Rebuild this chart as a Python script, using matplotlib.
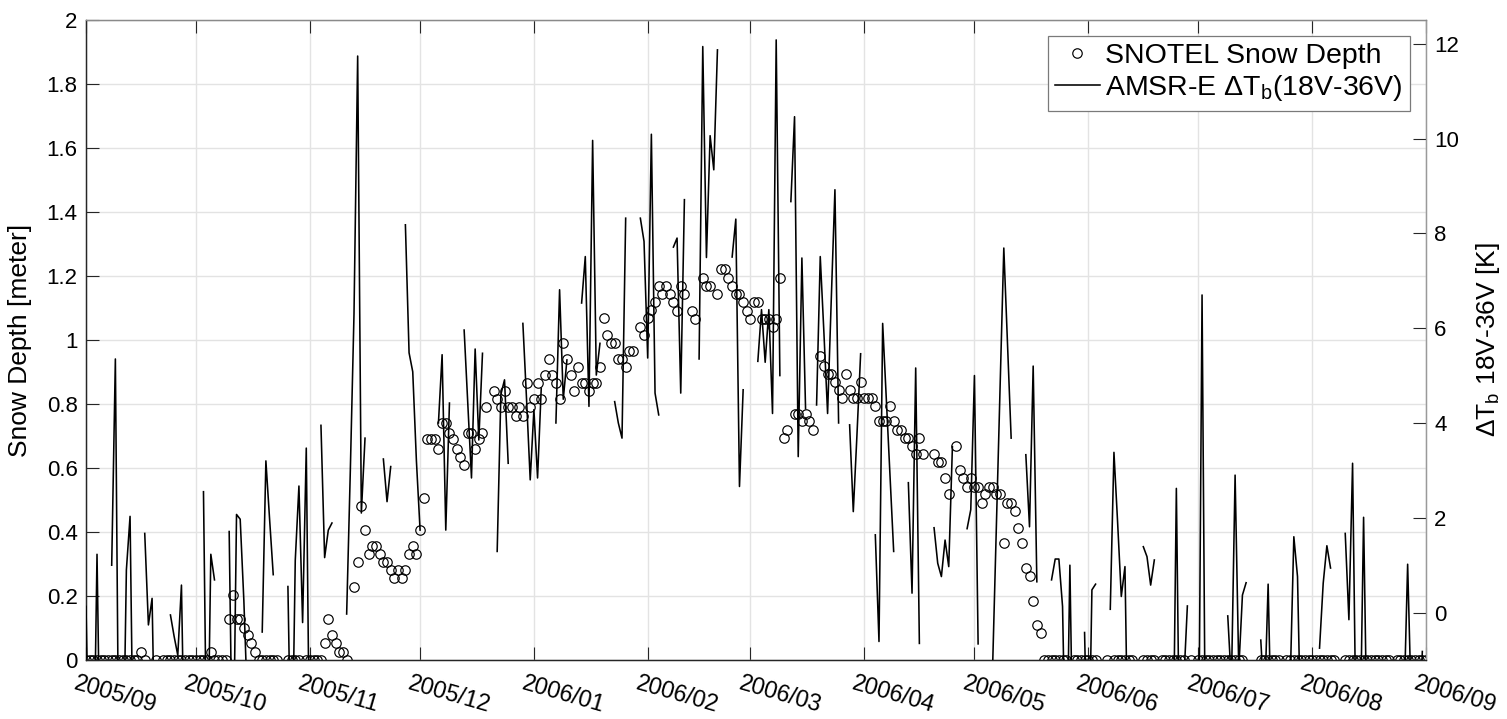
import numpy as np
import pandas as pd
import matplotlib
matplotlib.use("Agg")
import matplotlib.pyplot as plt
import matplotlib.transforms as mtransforms
from matplotlib.ticker import FuncFormatter, MultipleLocator
from matplotlib.lines import Line2D

plt.rcParams['font.family'] = ['Liberation Sans', 'DejaVu Sans']
plt.rcParams['mathtext.fontset'] = 'custom'
plt.rcParams['mathtext.rm'] = 'Liberation Sans'

N = np.nan

# Daily series, 2005-09-01 .. 2006-09-01
start_date = "2005-09-01"
end_date = "2006-09-01"

# SNOTEL snow depth [m]
snow_depth = [
    0, 0, 0, 0, 0, 0, 0, 0, 0, 0,
    0, 0, 0, 0, 0, .026, 0, N, N, 0,
    N, 0, 0, 0, 0, 0, 0, 0, 0, 0,
    0, 0, 0, 0, .026, 0, 0, 0, 0, .127,
    .203, .127, .127, .10, .078, .052, .026, 0, 0, 0,
    0, 0, 0, N, N, 0, 0, 0, 0, N,
    0, 0, 0, 0, 0, .052, .127, .078, .052, .026,
    .026, 0, N, .229, .305, .482, .406, .331, .356, .356,
    .331, .305, .305, .281, .255, .281, .255, .281, .331, .356,
    .331, .406, .507, .69, .69, .69, .66, .74, .74, .71,
    .69, .66, .635, .61, .71, .71, .66, .69, .71, .79,
    N, .84, .815, .79, .84, .79, .79, .763, .79, .763,
    .865, .79, .815, .865, .815, .89, .94, .89, .865, .815,
    .99, .94, .89, .84, .917, .865, .865, .84, .865, .865,
    .917, 1.068, 1.016, .99, .99, .94, .94, .917, .966, .966,
    N, 1.042, 1.016, 1.068, 1.094, 1.12, 1.17, 1.144, 1.169, 1.144,
    1.118, 1.09, 1.169, 1.144, N, 1.09, 1.066, N, 1.195, 1.169,
    1.169, N, 1.144, 1.221, 1.221, 1.195, 1.169, 1.144, 1.144, 1.118,
    1.09, 1.066, 1.118, 1.118, 1.066, 1.066, 1.066, 1.04, 1.066, 1.195,
    .695, .72, N, .77, .77, .747, .77, .747, .72, N,
    .95, .92, .895, .895, .87, .845, .82, .895, .845, .82,
    .82, .87, .82, .82, .82, .795, .747, .747, .747, .795,
    .747, .72, .72, .695, .695, .67, .643, .695, .643, N,
    N, .643, .618, .618, .568, .518, N, .67, .594, .568,
    .54, .568, .54, .54, .49, .518, .54, .54, .518, .518,
    .365, .49, .49, .466, .413, .365, .289, .263, .185, .109,
    .083, 0, 0, 0, 0, 0, 0, 0, N, 0,
    0, 0, 0, 0, 0, 0, N, N, 0, N,
    0, 0, 0, 0, 0, 0, N, N, 0, 0,
    0, 0, N, 0, 0, 0, 0, 0, 0, 0,
    N, 0, N, 0, 0, 0, 0, 0, 0, 0,
    0, 0, 0, 0, 0, 0, N, N, N, N,
    0, 0, 0, 0, 0, 0, N, 0, 0, 0,
    0, 0, 0, 0, 0, 0, 0, 0, 0, 0,
    0, N, N, 0, 0, 0, 0, 0, 0, 0,
    0, 0, 0, 0, 0, 0, N, 0, 0, 0,
    0, 0, 0, 0, 0, 0,
]

# AMSR-E brightness temperature difference 18V-36V [K]
delta_tb = [
    .13, -4, -4, 1.23, -4, N, N, 1.0, 5.35, -4,
    -4, .9, 2.03, -4, N, N, 1.67, -.26, .3, -4,
    N, N, N, -.05, -.5, -.9, .58, -4, N, N,
    N, N, 2.55, -4, 1.23, .69, N, N, N, 1.71,
    -4, 2.07, 1.97, .25, -2, N, N, N, -.41, 3.2,
    1.98, .8, N, N, N, .55, -4, 1.1, 2.67, -.21,
    3.47, -4, N, N, 3.95, 1.16, 1.74, 1.89, N, N,
    N, -.03, 3.0, 6.3, 11.74, 2.1, 3.68, N, N, N,
    N, 3.24, 2.34, 3.08, N, N, N, 8.18, 5.48, 5.08,
    3.2, 1.74, N, N, N, N, 4.0, 5.44, 1.74, 4.42,
    N, N, N, 5.96, 4.4, 2.84, 5.56, 3.64, 5.47, N,
    N, N, 1.29, 4.6, 4.91, 3.15, N, N, N, 6.1,
    4.5, 2.8, 4.28, 2.84, 4.73, N, N, N, 4.0, 6.81,
    4.5, 5.33, N, N, N, 6.53, 7.51, 4.35, 9.96, 5.01,
    5.68, N, N, N, 4.45, 4.0, 3.68, 8.32, N, N,
    N, 8.32, 7.83, 5.37, 10.09, 4.63, 4.17, N, N, N,
    7.71, 7.9, 4.63, 8.71, N, N, N, 5.35, 11.94, 7.49,
    10.06, 9.34, 11.87, N, N, N, 7.5, 8.3, 2.66, 4.7,
    N, N, N, 5.3, 6.39, 5.28, 6.39, 4.2, 12.08, 5.0,
    N, N, 8.67, 10.46, 3.29, 7.48, 4.3, N, N, 4.38,
    7.51, 5.9, 4.2, 6.6, 8.92, 4.0, N, N, 3.96, 2.13,
    3.75, 5.46, N, N, N, 1.64, -.61, 6.1, 4.5, 2.9,
    1.29, N, N, N, 2.74, .41, 5.16, -.65, N, N,
    N, 1.79, 1.04, .76, 1.53, .97, 3.5, N, N, N,
    1.77, 2.17, 5.0, -.66, N, N, N, -1.0, 1.9, 4.8,
    7.69, 5.7, 3.68, N, N, N, 3.33, 1.81, 5.2, .65,
    N, N, N, .69, 1.13, 1.13, .13, -4, 1.0, -4,
    N, N, -.42, -4, .48, .6, N, N, N, .07,
    3.38, 1.9, .34, .97, -4, N, N, N, 1.39, 1.18,
    .58, 1.11, N, N, N, N, -4, 2.62, -4, -1.5,
    .14, N, N, -4, 6.7, -4, N, N, N, N,
    N, -.07, -1.5, 2.9, -1.2, .37, .63, N, N, N,
    -.58, -2, .6, -3, N, N, N, N, -1.5, 1.6,
    .76, -3, N, N, N, N, -.75, .62, 1.41, .94,
    N, N, N, 1.67, -.15, 3.15, -3, -3, 2.01, -3,
    N, N, N, N, N, N, N, N, N, -2,
    1.02, -2, N, -3, -.82, N,
]

month_ticks = pd.date_range(start_date, end_date, freq="MS")
month_labels = [d.strftime("%Y/%m") for d in month_ticks]

dates = pd.date_range(start_date, end_date, freq="D")
assert len(dates) == len(snow_depth) == len(delta_tb)

W, H, DPI = 1507, 719, 100
fig = plt.figure(figsize=(W / DPI, H / DPI), dpi=DPI)
ax = fig.add_axes([86 / W, (H - 660) / H, 1340 / W, 640 / H])
ax2 = ax.twinx()

txt_color = "black"
tick_fs = 16

# snow depth, open circles on the left axis
ax.plot(dates, snow_depth, linestyle="none", marker="o", ms=6.8,
        mfc="none", mec="black", mew=0.85, zorder=3)
ax.set_ylim(0, 2)
ax.set_xlim(pd.Timestamp(start_date), pd.Timestamp(end_date))
ax.yaxis.set_major_locator(MultipleLocator(0.2))
ax.yaxis.set_major_formatter(FuncFormatter(lambda v, p: f"{v:.1f}".rstrip("0").rstrip(".")))
ax.set_xticks(month_ticks)
ax.set_xticklabels([])
ax.grid(True, color="#e3e3e3", lw=1.0)
ax.set_axisbelow(True)
ax.tick_params(axis="both", direction="in", length=9.5, width=0.8,
               labelsize=tick_fs, colors="#262626", labelcolor=txt_color)
ax.tick_params(axis="x", top=True, bottom=True)
ax.tick_params(axis="y", left=True, right=False, pad=6)
ax.set_ylabel("Snow Depth [meter]", fontsize=19, color=txt_color)
ax.yaxis.set_label_coords(-0.0405, 0.5)

# ΔTb line on the right axis
ax2.plot(dates, delta_tb, color="black", lw=1.15, zorder=4)
ax2.set_ylim(-1, 12.5)
ax2.set_yticks(np.arange(0, 13, 2))
ax2.tick_params(axis="y", direction="in", length=9.5, width=0.8,
                labelsize=tick_fs, colors="#262626", labelcolor=txt_color, pad=6)
ax2.set_ylabel("ΔT$_\\mathregular{b}$ 18V-36V [K]", fontsize=19, color=txt_color)
ax2.yaxis.set_label_coords(1.0355, 0.5)

for a in (ax, ax2):
    a.spines["left"].set_color("#262626")
    a.spines["bottom"].set_color("#262626")
    a.spines["top"].set_color("#8a8a8a")
    a.spines["right"].set_color("#9a9a9a")
    for s in a.spines.values():
        s.set_linewidth(0.9)

# rotated month labels under the axis
lab_tr = mtransforms.blended_transform_factory(ax.transData, ax.transAxes) + \
    mtransforms.ScaledTranslation(-8 / DPI, -12 / DPI, fig.dpi_scale_trans)
for d, lab in zip(month_ticks, month_labels):
    ax.text(d, 0, lab, transform=lab_tr, rotation=-16, rotation_mode="anchor",
            ha="left", va="top", fontsize=16.8, color=txt_color)

handles = [
    Line2D([], [], linestyle="none", marker="o", ms=6.8, mfc="none",
           mec="black", mew=0.85),
    Line2D([], [], color="black", lw=1.15),
]
labels = ["SNOTEL Snow Depth", "AMSR-E ΔT$_\\mathregular{b}$(18V-36V)"]
leg = ax2.legend(handles, labels, loc="upper right",
                 bbox_to_anchor=((1410 - 86) / 1340, (660 - 36) / 640),
                 borderaxespad=0, fontsize=20.5, frameon=True, fancybox=False,
                 framealpha=1, edgecolor="#7a7a7a", handlelength=1.6,
                 handletextpad=0.18, labelspacing=0.15, borderpad=0.25)
leg.get_frame().set_linewidth(0.9)

fig.savefig("out.png", dpi=DPI)
